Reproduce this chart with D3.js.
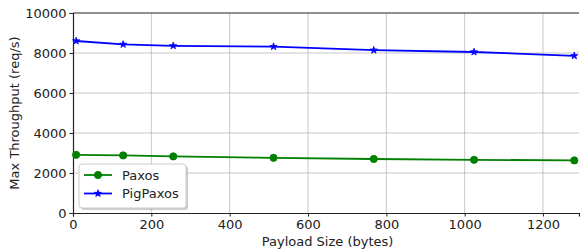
<!doctype html>
<html>
<head>
<meta charset="utf-8">
<style>
  body { margin: 0; background: #fff; }
  svg { font-family: "DejaVu Sans", sans-serif; }
  .grid line { stroke: #b0b0b0; stroke-opacity: 0.7; }
</style>
</head>
<body>
<svg width="580" height="251"></svg>
<script src="https://cdnjs.cloudflare.com/ajax/libs/d3/7.8.5/d3.min.js"></script>
<script>
var payload = [8, 128, 256, 512, 768, 1024, 1280];
var paxos = [2910, 2880, 2830, 2760, 2700, 2660, 2630];
var pigpaxos = [8600, 8430, 8360, 8320, 8140, 8050, 7860];
var xTicks = [0, 200, 400, 600, 800, 1000, 1200];
var yTicks = [0, 2000, 4000, 6000, 8000, 10000];

var svg = d3.select("svg"),
    margin = {top: 13, right: 1, bottom: 38, left: 73},
    width = +svg.attr("width") - margin.left - margin.right,
    height = +svg.attr("height") - margin.top - margin.bottom,
    g = svg.append("g").attr("transform", "translate(" + margin.left + "," + margin.top + ")");

var x = d3.scaleLinear().domain([0, 1292]).range([0, width]);
var y = d3.scaleLinear().domain([0, 10000]).range([height, 0]);

// grid
g.append("g").attr("class", "grid")
  .selectAll("line").data(xTicks.slice(1)).enter().append("line")
    .attr("x1", function(d) { return x(d); }).attr("x2", function(d) { return x(d); })
    .attr("y1", 0).attr("y2", height);
g.append("g").attr("class", "grid")
  .selectAll("line").data(yTicks.slice(1, -1)).enter().append("line")
    .attr("y1", function(d) { return y(d); }).attr("y2", function(d) { return y(d); })
    .attr("x1", 0).attr("x2", width);

// axes
var xAxis = g.append("g")
    .attr("transform", "translate(0," + height + ")")
    .call(d3.axisBottom(x).tickValues(xTicks).tickSize(3.5).tickPadding(3).tickFormat(d3.format("d")));
var yAxis = g.append("g")
    .call(d3.axisLeft(y).tickValues(yTicks).tickSize(3.5).tickPadding(3).tickFormat(d3.format("d")));
[xAxis, yAxis].forEach(function(a) {
  a.selectAll("text").style("font-size", "13px").style("fill", "#222").style("font-family", "DejaVu Sans");
  a.selectAll("line").attr("stroke", "#222");
  a.select(".domain").attr("stroke", "#222").attr("stroke-width", 1.2);
});
g.append("line").attr("x1", 0).attr("x2", width).attr("y1", 0).attr("y2", 0)
  .attr("stroke", "#222").attr("stroke-width", 1.2);

// labels
svg.append("text")
  .attr("x", margin.left + x(650)).attr("y", 246)
  .attr("text-anchor", "middle").style("font-size", "13px").style("fill", "#222")
  .text("Payload Size (bytes)");
svg.append("text")
  .attr("transform", "translate(19," + (margin.top + height / 2) + ") rotate(-90)")
  .attr("text-anchor", "middle").style("font-size", "13px").style("fill", "#222")
  .text("Max Throughput (req/s)");

// lines
var series = [
  {name: "Paxos", values: paxos, color: "green", marker: d3.symbolCircle, size: 42},
  {name: "PigPaxos", values: pigpaxos, color: "blue", marker: d3.symbolStar, size: 16}
];
series.forEach(function(s) {
  var line = d3.line()
    .x(function(d, i) { return x(payload[i]); })
    .y(function(d) { return y(d); });
  g.append("path")
    .datum(s.values)
    .attr("fill", "none")
    .attr("stroke", s.color)
    .attr("stroke-width", 1.8)
    .attr("d", line);
  g.selectAll(null).data(s.values).enter().append("path")
    .attr("d", d3.symbol().type(s.marker).size(s.size))
    .attr("transform", function(d, i) { return "translate(" + x(payload[i]) + "," + y(d) + ")"; })
    .attr("fill", s.color).attr("stroke", s.color).attr("stroke-width", 0.8);
});

// legend
var lg = svg.append("g").attr("transform", "translate(79,164)");
lg.append("rect").attr("x", 2).attr("y", 2).attr("width", 107).attr("height", 44)
  .attr("rx", 3).attr("fill", "#999").attr("opacity", 0.5);
lg.append("rect").attr("width", 107).attr("height", 44)
  .attr("rx", 3).attr("fill", "#fff").attr("stroke", "#ccc");
series.forEach(function(s, i) {
  var yy = 11 + i * 18.5;
  lg.append("line").attr("x1", 5).attr("x2", 33).attr("y1", yy).attr("y2", yy)
    .attr("stroke", s.color).attr("stroke-width", 1.8);
  lg.append("path").attr("d", d3.symbol().type(s.marker).size(s.size))
    .attr("transform", "translate(19," + yy + ")")
    .attr("fill", s.color).attr("stroke", s.color).attr("stroke-width", 0.8);
  lg.append("text").attr("x", 43).attr("y", yy + 4.5)
    .style("font-size", "13px").style("fill", "#222").text(s.name);
});
</script>
</body>
</html>
